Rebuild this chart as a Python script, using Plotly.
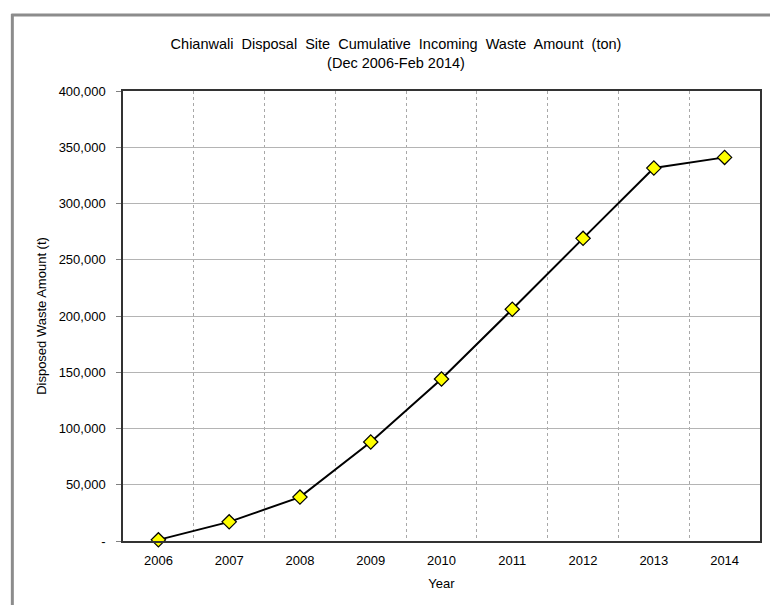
import plotly.graph_objects as go

years = ["2006", "2007", "2008", "2009", "2010", "2011", "2012", "2013", "2014"]
waste = [1000, 17000, 39000, 88000, 144000, 206000, 269000, 331500, 341000]
ytick_vals = [0, 50000, 100000, 150000, 200000, 250000, 300000, 350000, 400000]
ytick_text = ["-", "50,000", "100,000", "150,000", "200,000", "250,000", "300,000", "350,000", "400,000"]

xpos = list(range(len(years)))

W, H = 770, 605
L, R, T, B = 123, 8, 91, 64
pw, ph = W - L - R, H - T - B

def px(x):
    return (x - L) / pw

def py(y):
    return (H - B - y) / ph

font = "Liberation Sans, Arial, sans-serif"

fig = go.Figure()
fig.add_trace(go.Scatter(
    x=xpos, y=waste, mode="lines+markers",
    line=dict(color="black", width=2),
    marker=dict(symbol="diamond", size=11, color="#FFFF00",
                line=dict(color="black", width=1.2)),
    showlegend=False, cliponaxis=False,
))

shapes = [
    # outer chart frame (gray)
    dict(type="line", xref="paper", yref="paper", x0=px(12), x1=px(12), y0=py(14), y1=py(615),
         line=dict(color="#8c8c8c", width=3)),
    dict(type="line", xref="paper", yref="paper", x0=px(11), x1=px(780), y0=py(15), y1=py(15),
         line=dict(color="#8c8c8c", width=3)),
]

fig.update_layout(
    width=W, height=H,
    margin=dict(l=L, r=R, t=T, b=B),
    paper_bgcolor="white", plot_bgcolor="white",
    font=dict(family=font, size=13, color="black"),
    title=dict(text="Chianwali  Disposal  Site  Cumulative  Incoming  Waste  Amount  (ton)<br>(Dec 2006-Feb 2014)",
               x=396 / W, xanchor="center", y=1 - 49 / H, yanchor="top",
               font=dict(family=font, size=14.5, color="black")),
    xaxis=dict(
        range=[-0.5, len(years) - 0.5],
        tickmode="array", tickvals=xpos, ticktext=years,
        showgrid=False, ticks="", zeroline=False,
        showline=True, linecolor="#333333", linewidth=1.5, mirror=True,
        minor=dict(tickmode="linear", tick0=0.5, dtick=1, showgrid=True,
                   gridcolor="#a8a8a8", griddash="3px,3px", gridwidth=1, ticks=""),
        ticklabelstandoff=7,
        title=dict(text="Year", standoff=12, font=dict(size=13)),
        tickfont=dict(size=13),
    ),
    yaxis=dict(
        range=[0, 400000],
        tickmode="array", tickvals=ytick_vals, ticktext=ytick_text,
        showgrid=True, gridcolor="#b4b4b4", gridwidth=1, zeroline=False,
        ticks="outside", ticklen=5, tickcolor="#808080",
        showline=True, linecolor="#333333", linewidth=1.5, mirror=True,
        ticklabelstandoff=8,
        title=dict(text="Disposed Waste Amount (t)", standoff=9, font=dict(size=13)),
        tickfont=dict(size=13),
    ),
    shapes=shapes,
)

fig.write_html("out.html", config={"displayModeBar": False},
               post_script="document.body.style.margin='0px';")
